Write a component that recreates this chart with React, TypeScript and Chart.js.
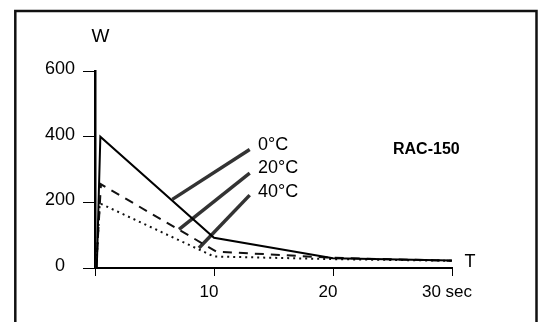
import React, { useEffect, useRef } from "react";
import { Chart, registerables } from "chart.js";

Chart.register(...registerables);

// Time (sec) and power (W) for each temperature series
const series0T = [0.15, 0.45, 10, 20, 30];
const series0W = [0, 400, 92, 30, 23];
const series20T = [0.1, 0.5, 10.2, 20, 30];
const series20W = [0, 255, 50, 31, 22];
const series40T = [0.1, 0.4, 10, 20, 30];
const series40W = [0, 197, 35, 27, 22];

// Leader lines from labels to curves (data coordinates)
const leader0T = [13.0, 6.5];
const leader0W = [361, 209];
const leader20T = [13.0, 7.06];
const leader20W = [289, 118];
const leader40T = [13.0, 8.74];
const leader40W = [222, 61];

const seriesLabels = ["0°C", "20°C", "40°C"];
const xTicks = [0, 10, 20, 30];
const xTickLabels = ["", "10", "20", "30 sec"];
const yTicks = [0, 200, 400, 600];
const modelName = "RAC-150";
const yAxisName = "W";
const xAxisName = "T";

const FONT = "'Liberation Sans', Arial, sans-serif";

const pts = (t: number[], w: number[]) => t.map((x, i) => ({ x, y: w[i] }));

const overlay = {
  id: "overlay",
  afterDraw(chart: any) {
    const ctx = chart.ctx;
    ctx.save();
    // frame
    ctx.strokeStyle = "#111";
    ctx.lineWidth = 2.5;
    ctx.beginPath();
    ctx.moveTo(15.3, 340);
    ctx.lineTo(15.3, 11);
    ctx.lineTo(536.5, 11);
    ctx.lineTo(536.5, 340);
    ctx.stroke();

    ctx.fillStyle = "#000";
    ctx.textBaseline = "middle";
    ctx.textAlign = "left";
    ctx.font = `18px ${FONT}`;
    const ys = [145, 168.3, 191.7];
    seriesLabels.forEach((s, i) => ctx.fillText(s, 258, ys[i]));

    ctx.textAlign = "center";
    ctx.font = `19px ${FONT}`;
    ctx.fillText(yAxisName, 100.5, 37);
    ctx.font = `18px ${FONT}`;
    ctx.fillText(xAxisName, 470, 262);

    ctx.textAlign = "left";
    ctx.font = `bold 16px ${FONT}`;
    ctx.fillText(modelName, 393, 150);
    ctx.restore();
  },
};

export default function App() {
  const ref = useRef<HTMLCanvasElement>(null);
  useEffect(() => {
    document.body.style.margin = "0";
    const leaderStyle = {
      borderColor: "#333",
      borderWidth: 3.5,
      borderCapStyle: "butt",
      pointRadius: 0,
    };
    const chart = new Chart(ref.current!, {
      type: "line",
      data: {
        datasets: [
          { label: seriesLabels[0], data: pts(series0T, series0W), borderColor: "#000", borderWidth: 2, pointRadius: 0 },
          { label: seriesLabels[1], data: pts(series20T, series20W), borderColor: "#111", borderWidth: 2, borderDash: [9, 7], pointRadius: 0 },
          { label: seriesLabels[2], data: pts(series40T, series40W), borderColor: "#111", borderWidth: 2, borderDash: [2, 4], pointRadius: 0 },
          { label: "l0", data: pts(leader0T, leader0W), ...leaderStyle },
          { label: "l20", data: pts(leader20T, leader20W), ...leaderStyle },
          { label: "l40", data: pts(leader40T, leader40W), ...leaderStyle },
        ] as any,
      },
      options: {
        responsive: false,
        maintainAspectRatio: false,
        devicePixelRatio: 1,
        animation: false,
        layout: { padding: { left: 0, top: 71, right: 89, bottom: 0 } },
        plugins: { legend: { display: false }, tooltip: { enabled: false } },
        elements: { line: { tension: 0 } },
        scales: {
          x: {
            type: "linear",
            min: 0,
            max: 30,
            afterBuildTicks: (s: any) => { s.ticks = xTicks.map((v) => ({ value: v })); },
            afterFit: (s: any) => { s.height = 54; },
            ticks: {
              callback: (v: any) => xTickLabels[xTicks.indexOf(Number(v))] ?? "",
              color: "#000",
              font: { family: FONT, size: 17 },
              padding: 6,
              labelOffset: -5,
              maxRotation: 0,
              autoSkip: false,
            },
            grid: { drawOnChartArea: false, drawTicks: true, tickLength: 8, color: "#000", lineWidth: 1 },
            border: { display: true, color: "#000", width: 2 },
          },
          y: {
            type: "linear",
            min: 0,
            max: 600,
            afterBuildTicks: (s: any) => { s.ticks = yTicks.map((v) => ({ value: v })); },
            afterFit: (s: any) => { s.width = 95; },
            ticks: {
              color: "#000",
              font: { family: FONT, size: 18 },
              crossAlign: "center",
              padding: 8,
              labelOffset: -2,
            },
            grid: { drawOnChartArea: false, drawTicks: true, tickLength: 12, color: "#000", lineWidth: 1 },
            border: { display: true, color: "#000", width: 2.5 },
          },
        },
      },
      plugins: [overlay],
    } as any);
    return () => chart.destroy();
  }, []);
  return (
    <div style={{ position: "absolute", left: 0, top: 0, width: 541, height: 322, background: "#fff" }}>
      <canvas ref={ref} width={541} height={322} style={{ display: "block" }} />
    </div>
  );
}
